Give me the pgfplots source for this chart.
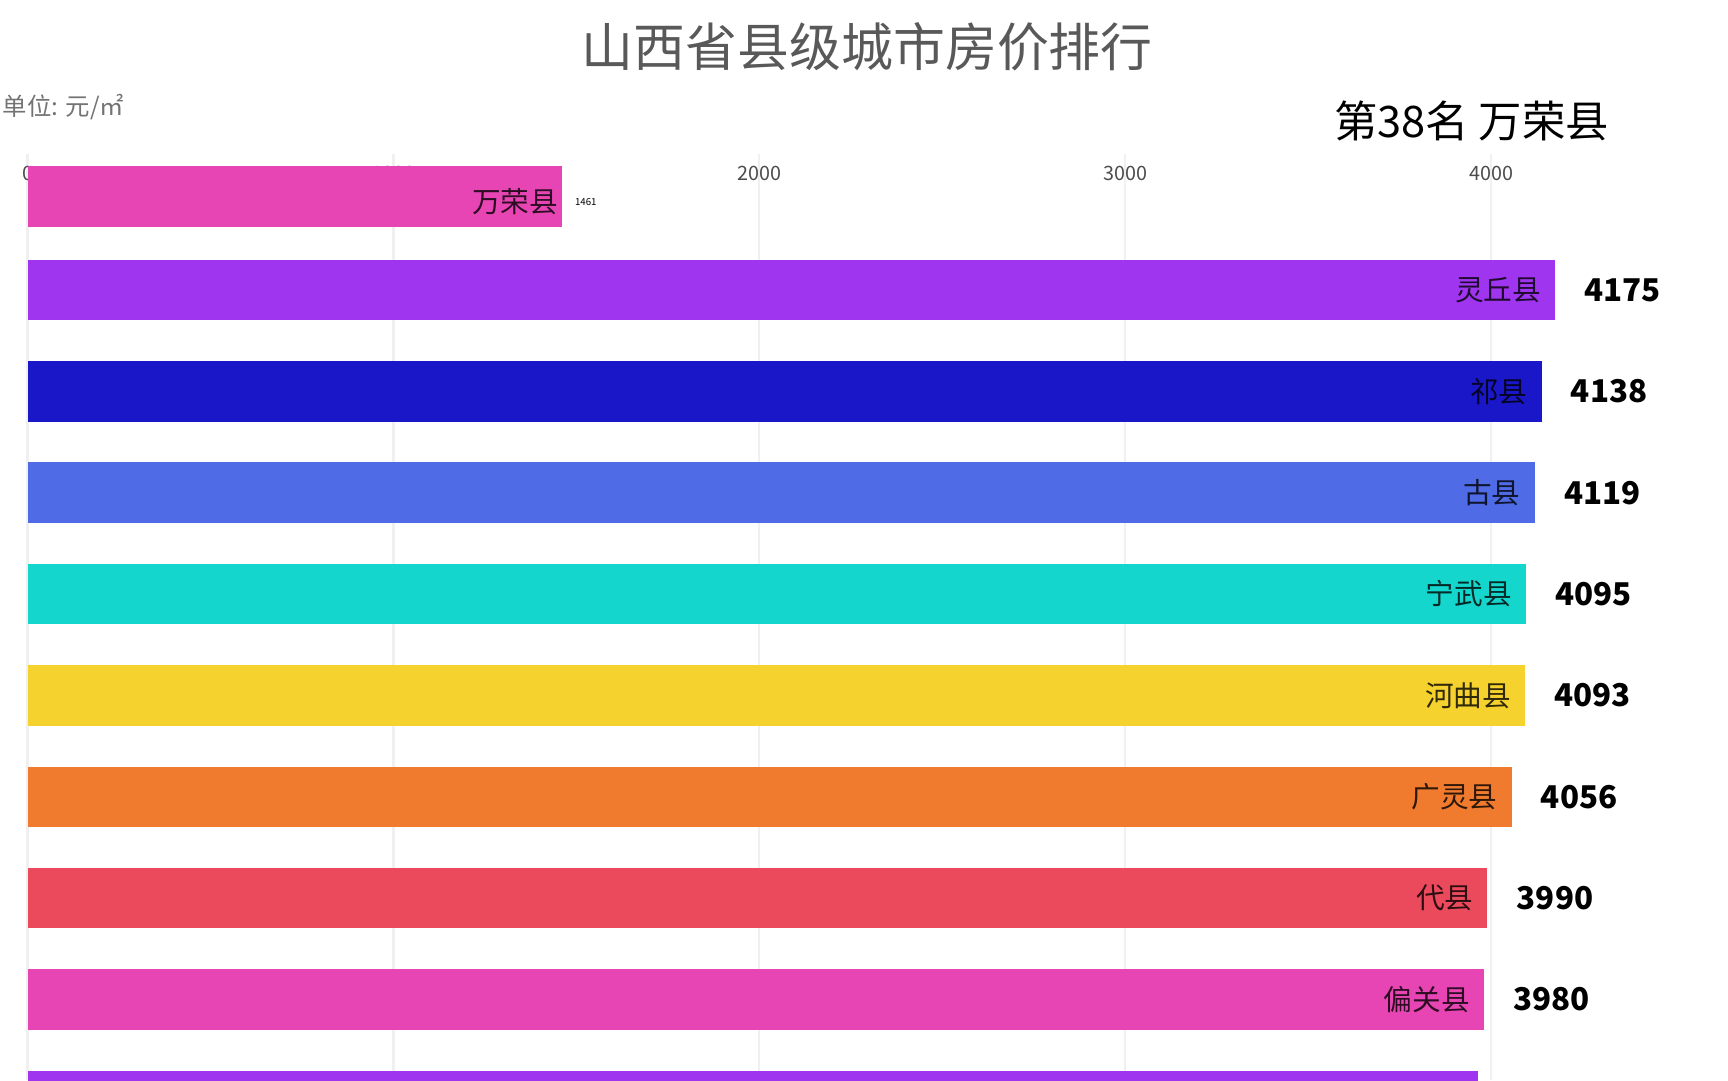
\documentclass[border=0pt]{standalone}
\usepackage{fontspec}
\setmainfont{Noto Sans CJK SC}
\usepackage{pgfplots}
\pgfplotsset{compat=1.18}

\definecolor{cpink}{HTML}{E845B4}
\definecolor{cpurple}{HTML}{A035F0}
\definecolor{cnavy}{HTML}{1A17C8}
\definecolor{cblue}{HTML}{4F6BE6}
\definecolor{cteal}{HTML}{14D6CC}
\definecolor{cyellow}{HTML}{F5D22E}
\definecolor{corange}{HTML}{F07A2E}
\definecolor{cred}{HTML}{EB4A5C}

\tikzset{
  nm/.style={font=\mdseries\fontsize{7.4}{8}\selectfont, text=black, text opacity=0.8, inner sep=0pt, label distance=0.38cm},
}
\pgfplotsset{
  bb/.style 2 args={fill=#1, draw=none, bar shift=0pt,
    every node near coord/.append style={label={[nm]180:#2}}},
}

\begin{document}
\begin{tikzpicture}
  \node[text=black!65, font=\fontsize{13.4}{15}\selectfont] at (7.87,9.38) {山西省县级城市房价排行};
  \node[anchor=west, text=black!55, inner sep=0pt, font=\fontsize{6.3}{7}\selectfont] at (0.02,8.83) {单位: 元/㎡};
  \node[anchor=west, inner sep=0pt, font=\fontsize{11.2}{12}\selectfont] at (12.10,8.70) {第38名 万荣县};

  \begin{axis}[
    at={(0.25cm,0cm)}, anchor=south west,
    scale only axis, width=15.272cm, height=8.4cm,
    xmin=0, xmax=4600, ymin=-980, ymax=-140,
    set layers, clip=true,
    xbar, bar width=55,
    axis line style={draw=none}, major tick length=0pt, ytick=\empty,
    xtick={0,1000,2000,3000,4000}, xticklabel pos=upper,
    xmajorgrids, grid style={black!6, line width=0.6pt},
    xticklabel style={font=\fontsize{5.1}{6}\selectfont, text=black!70, yshift=-0.36cm},
    /pgf/number format/1000 sep={}, /pgf/number format/assume math mode=true,
    point meta=x, nodes near coords,
    nodes near coords style={anchor=west, inner sep=0pt, xshift=0.26cm,
      font=\bfseries\fontsize{8.1}{10}\selectfont},
  ]
  \addplot[fill=cpink, draw=none, bar shift=0pt,
    every node near coord/.append style={font=\fontsize{2.5}{3}\selectfont, xshift=-0.15cm, yshift=-0.05cm,
      label={[nm, label distance=0.14cm]180:万荣县}}] coordinates {(1461,-178)};
  \addplot[bb={cpurple}{灵丘县}] coordinates {(4175,-263)};
  \addplot[bb={cnavy}{祁县}] coordinates {(4138,-355)};
  \addplot[bb={cblue}{古县}] coordinates {(4119,-447)};
  \addplot[bb={cteal}{宁武县}] coordinates {(4095,-539)};
  \addplot[bb={cyellow}{河曲县}] coordinates {(4093,-631)};
  \addplot[bb={corange}{广灵县}] coordinates {(4056,-723)};
  \addplot[bb={cred}{代县}] coordinates {(3990,-815)};
  \addplot[bb={cpink}{偏关县}] coordinates {(3980,-907)};
  \addplot[bb={cpurple}{}] coordinates {(3965,-999)};
  \end{axis}
  \pgfresetboundingbox
  \useasboundingbox (0,0) rectangle (15.68,9.8);
\end{tikzpicture}
\end{document}
